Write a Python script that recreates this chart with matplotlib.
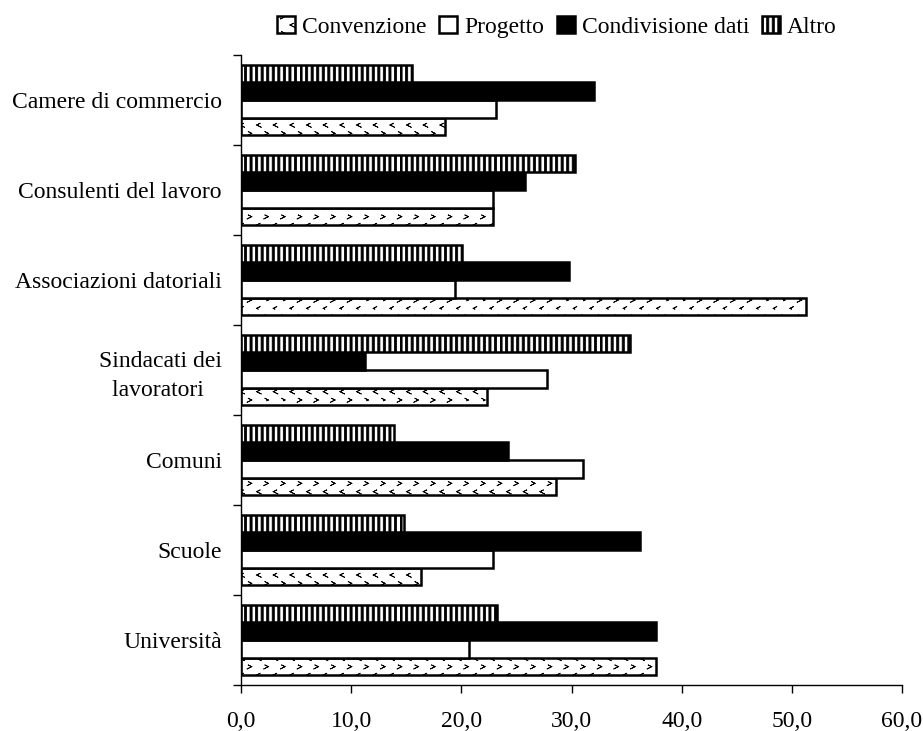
import numpy as np
import matplotlib
matplotlib.use("Agg")
import matplotlib.pyplot as plt
from matplotlib import hatch as mhatch
from matplotlib.path import Path

# ---- data -------------------------------------------------------------
categories = ["Università", "Scuole", "Comuni", "Sindacati dei\nlavoratori ",
              "Associazioni datoriali", "Consulenti del lavoro",
              "Camere di commercio"]
series_names = ["Convenzione", "Progetto", "Condivisione dati", "Altro"]
convenzione = [37.7, 16.3, 28.6, 22.3, 51.3, 22.9, 18.5]
progetto = [20.7, 22.9, 31.0, 27.8, 19.4, 22.9, 23.1]
condivisione = [37.7, 36.2, 24.2, 11.3, 29.8, 25.8, 32.0]
altro = [23.2, 14.8, 13.9, 35.3, 20.1, 30.3, 15.5]
x_ticks = [0, 10, 20, 30, 40, 50, 60]
x_tick_labels = ["0,0", "10,0", "20,0", "30,0", "40,0", "50,0", "60,0"]


# ---- custom fill patterns ---------------------------------------------
class ChevronHatch(mhatch.HatchPatternBase):
    """Rows of small alternating '>' and '<' marks."""
    size = 0.2

    def __init__(self, hatch, density):
        n = hatch.count('*') * density
        self.n = n
        self.shapes = []
        if n:
            rows = 2 * n
            for r in range(rows + 1):
                y = r / rows
                shift = 0.5 / n if r % 2 else 0.0
                for c in range(-1, n + 1):
                    self.shapes.append((c / n + shift, y, r % 2))
        self.num_vertices = len(self.shapes) * 5

    def set_vertices_and_codes(self, vertices, codes):
        s = self.size / self.n
        k = 0
        for x, y, flip in self.shapes:
            d = -1.0 if flip else 1.0
            p0 = (x - d * s / 2, y + s / 2)
            p1 = (x + d * s / 2, y)
            p2 = (x - d * s / 2, y - s / 2)
            vertices[k:k + 5] = [p0, p1, p2, p1, p0]
            codes[k:k + 5] = [Path.MOVETO, Path.LINETO, Path.LINETO,
                              Path.LINETO, Path.LINETO]
            k += 5


class StripeHatch(mhatch.HatchPatternBase):
    """Dense solid vertical stripes."""
    def __init__(self, hatch, density):
        self.m = hatch.count('|') * density
        self.num_vertices = self.m * 5

    def set_vertices_and_codes(self, vertices, codes):
        w = 0.38 / self.m if self.m else 0
        k = 0
        for c in range(self.m):
            x = c / self.m
            vertices[k:k + 5] = [(x, 0), (x + w, 0), (x + w, 1), (x, 1), (x, 0)]
            codes[k:k + 5] = [Path.MOVETO, Path.LINETO, Path.LINETO,
                              Path.LINETO, Path.CLOSEPOLY]
            k += 5


mhatch._hatch_types = [ChevronHatch, StripeHatch]

plt.rcParams["font.family"] = ["Liberation Serif", "DejaVu Serif"]
plt.rcParams["hatch.linewidth"] = 0.6
plt.rcParams["hatch.color"] = "black"

FS = 17

fig = plt.figure(figsize=(9.23, 7.31), dpi=100)
ax = fig.add_axes([0.2611, 0.0629, 0.9773 - 0.2611, 0.9248 - 0.0629])

y = np.arange(len(categories))
h = 0.196
styles = [
    (convenzione, dict(facecolor="white", edgecolor="black", hatch="*")),
    (progetto, dict(facecolor="white", edgecolor="black")),
    (condivisione, dict(facecolor="black", edgecolor="black")),
    (altro, dict(facecolor="white", edgecolor="black", hatch="|||")),
]
handles = []
for i, (vals, st) in enumerate(styles):
    off = (i - 1.5) * h
    b = ax.barh(y + off, vals, height=h, linewidth=1.8, label=series_names[i], **st)
    handles.append(b)

ax.set_xlim(0, 60)
ax.set_ylim(-0.5, len(categories) - 0.5)
ax.set_xticks(x_ticks)
ax.set_xticklabels(x_tick_labels, fontsize=FS)
ax.set_yticks(y)
ax.set_yticklabels(categories, fontsize=FS, multialignment="center",
                   linespacing=1.45)
ax.tick_params(axis="y", which="major", length=0, pad=13.7)
ax.set_yticks(np.arange(-0.5, len(categories), 1.0), minor=True)
ax.tick_params(axis="y", which="minor", length=6, width=1, direction="out")
ax.tick_params(axis="x", length=6, width=1, direction="out", pad=13)

for side in ("top", "right"):
    ax.spines[side].set_visible(False)
for side in ("left", "bottom"):
    ax.spines[side].set_linewidth(1)

fig.legend(handles=handles, labels=series_names, loc="upper center",
           bbox_to_anchor=(557 / 923, 1.007), ncol=4, frameon=False,
           fontsize=FS, handlelength=0.75, handleheight=0.75,
           handletextpad=0.3, columnspacing=0.55)

fig.savefig("out.png", dpi=100)
